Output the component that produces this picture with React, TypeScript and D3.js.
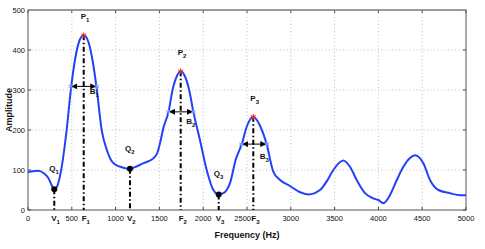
import React from "react";
import * as d3 from "d3";

const freqs = [0, 60, 118, 180, 232, 270, 300, 330, 385, 441, 491, 540, 590, 636, 690, 740, 784, 841, 900, 947, 1000, 1069, 1164, 1250, 1317, 1431, 1480, 1507, 1545, 1605, 1650, 1700, 1743, 1790, 1840, 1887, 1963, 2040, 2116, 2177, 2230, 2268, 2306, 2370, 2439, 2500, 2572, 2650, 2725, 2800, 2877, 2991, 3100, 3200, 3333, 3420, 3485, 3600, 3676, 3752, 3847, 3942, 4000, 4056, 4132, 4200, 4285, 4360, 4418, 4513, 4589, 4684, 4817, 4932, 5000];
const amps = [95, 97, 98, 92, 80, 62, 52, 58, 108, 200, 304, 380, 425, 437, 420, 370, 304, 200, 150, 125, 113, 107, 103, 110, 117, 129, 145, 167, 205, 246, 300, 335, 347, 335, 300, 246, 175, 100, 50, 39, 42, 50, 67, 125, 164, 210, 233, 210, 164, 96, 75, 60, 45, 39, 50, 75, 100, 124, 108, 75, 42, 29, 25, 17, 37, 70, 108, 130, 137, 117, 75, 50, 42, 37, 37];

const peakFreqs = [636, 1743, 2572];
const peakAmps = [437, 347, 233];
const valleyFreqs = [300, 1164, 2177];
const valleyAmps = [52, 103, 39];
const bandLeft = [491, 1605, 2439];
const bandRight = [784, 1887, 2725];

const xTicks = [0, 500, 1000, 1500, 2000, 2500, 3000, 3500, 4000, 4500, 5000];
const yTicks = [0, 100, 200, 300, 400, 500];

const W = 485, H = 249;
const L = 28, R = 466, T = 10, B = 210;
const FONT = "'Liberation Sans', Arial, sans-serif";

export default function App() {
  const x = d3.scaleLinear().domain([0, 5000]).range([L, R]);
  const y = d3.scaleLinear().domain([0, 500]).range([B, T]);
  const pts: [number, number][] = freqs.map((f, i) => [f, amps[i]]);
  const line = d3.line<[number, number]>().x(d => x(d[0])).y(d => y(d[1])).curve(d3.curveMonotoneX);
  const star = d3.symbol().type(d3.symbolAsterisk).size(22);
  const dash = "5 2.5 1.5 2.5";
  const bOff = [5, 9, 12];
  const crowded = (t: number) => peakFreqs.concat(valleyFreqs).some(f => x(f) - x(t) > 0 && x(f) - x(t) < 9);

  return (
    <svg width={W} height={H} style={{ position: "absolute", left: 0, top: 0, background: "#fff" }} fontFamily={FONT}>
      <defs>
        <marker id="ah" viewBox="0 0 10 10" refX="9" refY="5" markerWidth="6" markerHeight="6" orient="auto-start-reverse" markerUnits="userSpaceOnUse">
          <path d="M0,0 L10,5 L0,10 z" fill="#000" />
        </marker>
      </defs>
      <rect x={0} y={0} width={W} height={H} fill="#fff" />
      {xTicks.slice(1, -1).map(t => (
        <line key={"gx" + t} x1={x(t)} x2={x(t)} y1={T} y2={B} stroke="#b0b0b0" strokeWidth={0.8} strokeDasharray="1 2.5" />
      ))}
      {yTicks.slice(1, -1).map(t => (
        <line key={"gy" + t} x1={L} x2={R} y1={y(t)} y2={y(t)} stroke="#b0b0b0" strokeWidth={0.8} strokeDasharray="1 2.5" />
      ))}
      {xTicks.map(t => (
        <g key={"tx" + t}>
          <line x1={x(t)} x2={x(t)} y1={B} y2={B - 3} stroke="#444" />
          <line x1={x(t)} x2={x(t)} y1={T} y2={T + 3} stroke="#444" />
          <text x={crowded(t) ? x(t) + 4 : x(t)} y={221} fontSize={7.5} textAnchor={crowded(t) ? "end" : "middle"} fill="#111">{t}</text>
        </g>
      ))}
      {yTicks.map(t => (
        <g key={"ty" + t}>
          <line x1={L} x2={L + 3} y1={y(t)} y2={y(t)} stroke="#444" />
          <line x1={R} x2={R - 3} y1={y(t)} y2={y(t)} stroke="#444" />
          <text x={L - 3} y={y(t) + 3} fontSize={7.5} textAnchor="end" fill="#111">{t}</text>
        </g>
      ))}
      <rect x={L} y={T} width={R - L} height={B - T} fill="none" stroke="#555" strokeWidth={1} />
      <line x1={L} x2={R} y1={T} y2={T} stroke="#999" strokeWidth={1.5} />
      {peakFreqs.map((f, i) => (
        <line key={"pl" + i} x1={x(f)} x2={x(f)} y1={y(peakAmps[i])} y2={B} stroke="#000" strokeWidth={2} strokeDasharray={dash} />
      ))}
      {valleyFreqs.map((f, i) => (
        <line key={"vl" + i} x1={x(f)} x2={x(f)} y1={y(valleyAmps[i])} y2={B} stroke="#000" strokeWidth={2} strokeDasharray={dash} />
      ))}
      <path d={line(pts) || ""} fill="none" stroke="#2440f8" strokeWidth={2} />
      {peakAmps.map((a, i) => {
        const yy = y(a / Math.SQRT2);
        return (
          <g key={"bw" + i}>
            <line x1={x(bandLeft[i]) + 1} x2={x(bandRight[i]) - 1} y1={yy} y2={yy} stroke="#000" strokeWidth={1} markerStart="url(#ah)" markerEnd="url(#ah)" />
            <path d={star() || ""} transform={`translate(${x(bandLeft[i])},${yy})`} fill="none" stroke="#7b96ff" strokeWidth={1} />
            <path d={star() || ""} transform={`translate(${x(bandRight[i])},${yy})`} fill="none" stroke="#7b96ff" strokeWidth={1} />
            <text x={x(bandRight[i]) - 7} y={yy + bOff[i] + 3} fontSize={8} fontWeight="bold" fill="#111">
              B<tspan fontSize={6} dy={3}>{i + 1}</tspan>
            </text>
          </g>
        );
      })}
      {peakFreqs.map((f, i) => (
        <g key={"pk" + i}>
          <path d={star() || ""} transform={`translate(${x(f)},${y(peakAmps[i])})`} fill="none" stroke="#ff2020" strokeWidth={1} />
          <text x={x(f) - 3} y={y(peakAmps[i]) - 16} fontSize={8} fontWeight="bold" fill="#111">
            P<tspan fontSize={6} dy={3}>{i + 1}</tspan>
          </text>
        </g>
      ))}
      {valleyFreqs.map((f, i) => (
        <g key={"vy" + i}>
          <circle cx={x(f)} cy={y(valleyAmps[i])} r={3} fill="#000" />
          <text x={x(f) - 5} y={y(valleyAmps[i]) - 18} fontSize={8} fontWeight="bold" fill="#111">
            Q<tspan fontSize={6} dy={3}>{i + 1}</tspan>
          </text>
        </g>
      ))}
      {valleyFreqs.map((f, i) => (
        <text key={"vt" + i} x={x(f) - 3} y={221} fontSize={8} fontWeight="bold" fill="#111">
          V<tspan fontSize={6} dy={3}>{i + 1}</tspan>
        </text>
      ))}
      {peakFreqs.map((f, i) => (
        <text key={"ft" + i} x={x(f) - 2} y={221} fontSize={8} fontWeight="bold" fill="#111">
          F<tspan fontSize={6} dy={3}>{i + 1}</tspan>
        </text>
      ))}
      <text x={(L + R) / 2} y={238} fontSize={9} fontWeight="bold" textAnchor="middle" fill="#111">Frequency (Hz)</text>
      <text transform={`translate(12,${(T + B) / 2}) rotate(-90)`} fontSize={9} fontWeight="bold" textAnchor="middle" fill="#111">Amplitude</text>
    </svg>
  );
}
